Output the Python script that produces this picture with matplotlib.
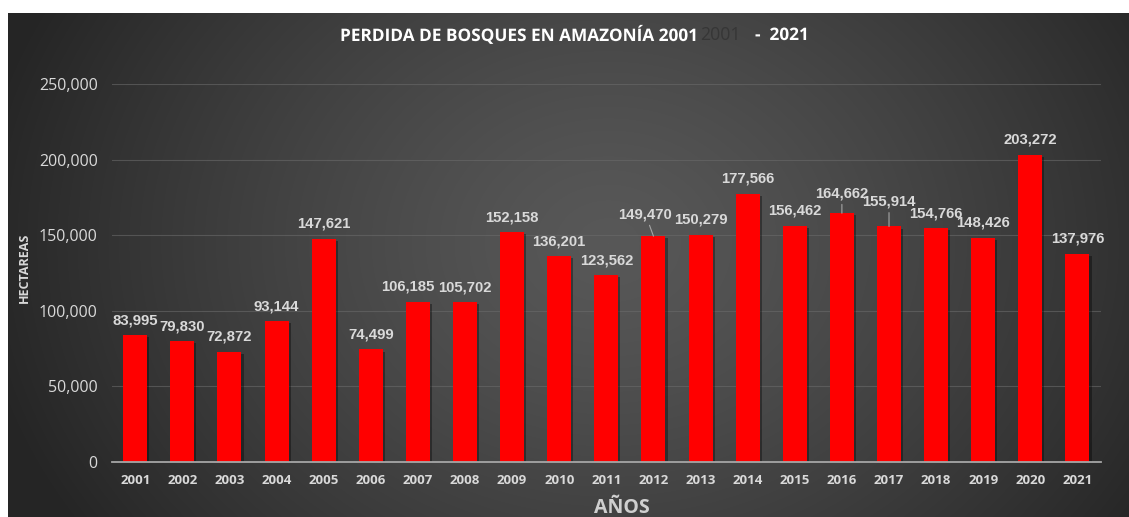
import numpy as np
import matplotlib
matplotlib.use("Agg")
import matplotlib.pyplot as plt
import matplotlib.patheffects as pe

years = ["2001", "2002", "2003", "2004", "2005", "2006", "2007", "2008", "2009", "2010",
         "2011", "2012", "2013", "2014", "2015", "2016", "2017", "2018", "2019", "2020", "2021"]
hectareas = [83995, 79830, 72872, 93144, 147621, 74499, 106185, 105702, 152158, 136201,
             123562, 149470, 150279, 177566, 156462, 164662, 155914, 154766, 148426, 203272, 137976]
yticks = [0, 50000, 100000, 150000, 200000, 250000]

# label offsets in pixels (dx, dy above bar top) and whether a leader line is drawn
label_style = {6: (-10, 15, False), 11: (-8, 22, True), 15: (0, 20, True), 16: (0, 25, True)}

W, H = 1129, 517
fig = plt.figure(figsize=(W / 100, H / 100), dpi=100)
fig.patch.set_facecolor("white")

# dark radial gradient background
bx0, by0 = 8, 13
bw, bh = W - bx0, H - by0
bg = fig.add_axes([bx0 / W, 0, bw / W, bh / H])
bg.set_axis_off()
yy, xx = np.mgrid[0:bh, 0:bw]
d = np.sqrt(((xx - 600) / 640.0) ** 2 + ((yy - 230) / 520.0) ** 2)
d = np.clip(d, 0, 1)
c_center, c_edge = 88 / 255, 37 / 255
val = c_center - (c_center - c_edge) * d ** 1.3
img = np.dstack([val, val, val])
bg.imshow(img, aspect="auto", interpolation="bilinear", extent=[0, 1, 0, 1])
bg.set_xlim(0, 1)
bg.set_ylim(0, 1)

ax_l, ax_r, ax_b, ax_t = 111.7, 1101, 462, 84.3
ax = fig.add_axes([ax_l / W, 1 - ax_b / H, (ax_r - ax_l) / W, (ax_b - ax_t) / H])
ax.patch.set_alpha(0)

x = np.arange(len(years))
bars = ax.bar(x, hectareas, width=0.51, color="#ff0000", zorder=3)
for b in bars:
    b.set_path_effects([pe.SimplePatchShadow(offset=(1.5, -1.5), shadow_rgbFace="black", alpha=0.35), pe.Normal()])

ax.set_xlim(-0.5, len(years) - 0.5)
ax.set_ylim(0, 250000)
ax.set_yticks(yticks)
ax.set_yticklabels([f"{v:,}" for v in yticks], fontsize=11.5, color="#d9d9d9", family="Open Sans")
ax.set_xticks(x)
ax.set_xticklabels(years, fontsize=9.5, color="#d9d9d9", family="Open Sans", fontweight="bold")
ax.tick_params(axis="both", length=0)
ax.tick_params(axis="y", pad=10)
ax.tick_params(axis="x", pad=9)
ax.grid(axis="y", color="#6a6a6a", lw=0.8, alpha=0.6, zorder=0)
ax.set_axisbelow(True)
for s in ["top", "right", "left"]:
    ax.spines[s].set_visible(False)
ax.spines["bottom"].set_color("#a6a6a6")
ax.spines["bottom"].set_linewidth(1.3)
ax.spines["bottom"].set_zorder(4)

px2pt = 0.72
for i, v in enumerate(hectareas):
    dx, dy, leader = label_style.get(i, (0, 15, False))
    kw = {}
    if leader:
        kw["arrowprops"] = dict(arrowstyle="-", color="#a6a6a6", lw=0.8, shrinkA=1, shrinkB=0)
    ax.annotate(f"{v:,}", xy=(i, v), xytext=(dx * px2pt, dy * px2pt), textcoords="offset points",
                ha="center", va="center", fontsize=10.7, fontweight="bold", color="#d9d9d9",
                family="Liberation Sans", annotation_clip=False, zorder=5, **kw)

# axis titles
fig.text(24 / W, 1 - 268 / H, "HECTAREAS", rotation=90, ha="center", va="center",
         fontsize=9, fontweight="bold", color="#d9d9d9", family="Open Sans")
fig.text(622 / W, 1 - 508 / H, "AÑOS", ha="center", va="center",
         fontsize=14, fontweight="bold", color="#cfcfcf", family="Open Sans")

# title
tshadow = [pe.SimpleLineShadow(offset=(1.5, -1.5), shadow_color="black", alpha=0.6), pe.Normal()]
ty = 1 - 35 / H
t1 = fig.text(340 / W, ty, "PERDIDA DE BOSQUES EN AMAZONÍA 2001", ha="left", va="center",
              fontsize=12.4, fontweight="bold", color="white", family="Open Sans")
t1.set_path_effects(tshadow)
fig.canvas.draw()
ext = t1.get_window_extent()
t2 = fig.text(ext.x1 / W + 3 / W, ty, "2001", ha="left", va="center",
              fontsize=12.8, color="#363636", family="Open Sans")
t3 = fig.text(755 / W, ty, "-  2021", ha="left", va="center",
              fontsize=12.4, fontweight="bold", color="white", family="Open Sans")
t3.set_path_effects(tshadow)

fig.savefig("out.png", dpi=100, facecolor=fig.get_facecolor())
